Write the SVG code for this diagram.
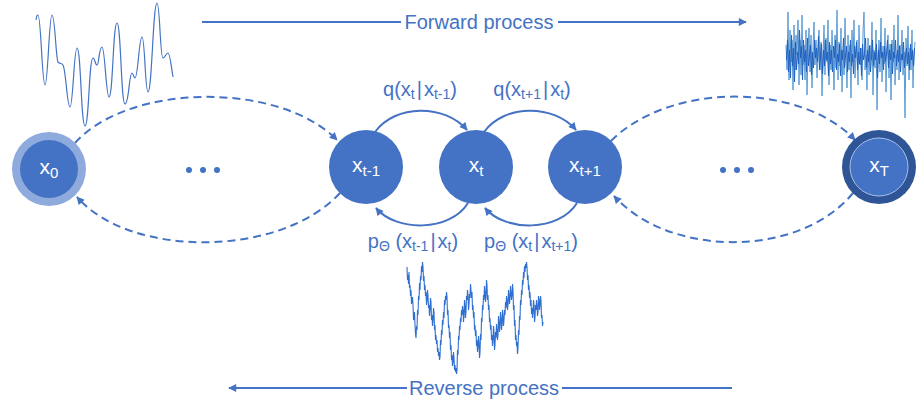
<svg xmlns="http://www.w3.org/2000/svg" width="917" height="402" viewBox="0 0 917 402">
<defs>
<marker id="ah2" viewBox="0 0 10 10" refX="9" refY="5" markerWidth="9" markerHeight="8" orient="auto" markerUnits="userSpaceOnUse"><path d="M0,0 L10,5 L0,10 Z" fill="#4472C4"/></marker>
</defs>
<style>
.lbl{font-family:"Liberation Sans",Arial,sans-serif;font-size:20px;fill:#4472C4}
.nl{font-family:"Liberation Sans",Arial,sans-serif;font-size:21px;fill:#ffffff}
.title{font-family:"Liberation Sans",Arial,sans-serif;font-size:20px;fill:#4472C4}
.dash{fill:none;stroke:#4472C4;stroke-width:2;stroke-dasharray:8 5}
.solid{fill:none;stroke:#4472C4;stroke-width:2}
.node{fill:#4472C4}
.wave{fill:none;stroke:#4472C4;stroke-width:1.2}
</style>
<rect width="917" height="402" fill="#ffffff"/>

<g id="signals">
<path class="wave" d="M36,20 C37,15 37,15 38,15 C41,15 42,85 45,85 C48,85 49,15 52,15 C55,15 56,60 58,62 C60,64 62,63 63,65 C66,70 67,107 70,107 C73,107 74,48 77,48 C81,48 81,126 85,126 C89,126 89,58 93,58 C95,58 95,65 97,65 C99,65 99,47 102,47 C105,47 106,97 109,97 C113,97 113,23 117,23 C121,23 121,104 125,104 C129,104 129,73 132,73 C133,73 134,78 135,78 C138,78 139,37 142,37 C145,37 145,92 148,92 C152,92 153,3 157,3 C160,3 160,58 163,58 C165,58 166,53 168,53 C170,53 171,65 173,77"/>
<polyline fill="none" stroke="#5B9BD5" stroke-width="1" points="786,45 787,70 788,12 789,80 790,30 791,62 792,40 793,90 794,25 795,70 796,35 797,55 798,20 799,85 800,40 801,75 802,15 803,65 804,45 805,80 806,30 807,95 808,50 809,28 810,72 811,35 812,88 813,48 814,22 815,65 816,40 817,78 818,55 819,30 820,70 821,42 822,96 823,60 824,25 825,75 826,38 827,62 828,20 829,85 830,45 831,70 832,30 833,58 834,90 835,35 836,68 837,10 838,80 839,42 840,66 841,28 842,92 843,50 844,75 845,18 846,60 847,88 848,35 849,70 850,45 851,98 852,30 853,62 854,20 855,78 856,50 857,40 858,85 859,25 860,65 861,48 862,80 863,32 864,12 865,70 866,55 867,90 868,38 869,75 870,45 871,60 872,22 873,95 874,50 875,68 876,30 877,110 878,58 879,40 880,72 881,18 882,82 883,46 884,64 885,28 886,92 887,52 888,35 889,78 890,44 891,100 892,40 893,62 894,25 895,85 896,55 897,70 898,15 899,80 900,45 901,60 902,30 903,75 904,52 905,118 906,38 907,66 908,26 909,80 910,48 911,70 912,30 913,88 914,55 915,42"/>
<polyline fill="none" stroke="#1F5FBF" stroke-width="1" points="786.5,60 787.5,40 788.5,72 789.5,50 790.5,78 791.5,35 792.5,66 793.5,48 794.5,82 795.5,42 796.5,70 797.5,52 798.5,64 799.5,30 800.5,58 801.5,46 802.5,80 803.5,40 804.5,62 805.5,50 806.5,72 807.5,38 808.5,66 809.5,55 810.5,45 811.5,75 812.5,52 813.5,68 814.5,40 815.5,58 816.5,48 817.5,62 818.5,36 819.5,70 820.5,56 821.5,44 822.5,74 823.5,50 824.5,66 825.5,40 826.5,60 827.5,52 828.5,76 829.5,42 830.5,64 831.5,50 832.5,72 833.5,46 834.5,58 835.5,40 836.5,70 837.5,54 838.5,62 839.5,44 840.5,76 841.5,50 842.5,60 843.5,38 844.5,68 845.5,56 846.5,46 847.5,72 848.5,52 849.5,62 850.5,40 851.5,66 852.5,54 853.5,74 854.5,46 855.5,58 856.5,42 857.5,70 858.5,52 859.5,64 860.5,48 861.5,76 862.5,44 863.5,60 864.5,54 865.5,38 866.5,68 867.5,50 868.5,62 869.5,46 870.5,72 871.5,56 872.5,40 873.5,66 874.5,52 875.5,60 876.5,44 877.5,78 878.5,50 879.5,64 880.5,42 881.5,58 882.5,52 883.5,70 884.5,46 885.5,62 886.5,54 887.5,40 888.5,68 889.5,50 890.5,60 891.5,44 892.5,74 893.5,52 894.5,58 895.5,40 896.5,66 897.5,50 898.5,62 899.5,46 900.5,72 901.5,54 902.5,60 903.5,42 904.5,68 905.5,56 906.5,48 907.5,64 908.5,52 909.5,70 910.5,44 911.5,60 912.5,50 913.5,66 914.5,48"/>
<polyline fill="none" stroke="#2E6FD0" stroke-width="1.1" points="407,267 407.5,280 408,275 408.5,284 409,272 409.5,288 410,285 410.5,296 411,290 411.5,304 412,300 412.5,297 413,305 413.5,320 414,318 414.5,312 415,325 415.5,334 416,338 416.5,326 417,330 417.5,310 418,315 418.5,296 419,300 419.5,283 420,290 420.5,276 421,280 421.5,266 422,272 422.5,262 423,267 423.5,281 424,276 424.5,290 425,285 425.5,296 426,292 426.5,305 427,300 427.5,290 428,296 428.5,308 429,305 429.5,316 430,310 430.5,298 431,302 431.5,320 432,315 432.5,326 433,320 433.5,308 434,312 434.5,330 435,325 435.5,340 436,335 436.5,344 437,340 437.5,352 438,348 438.5,356 439,352 439.5,360 440,357 440.5,340 441,345 441.5,330 442,335 442.5,320 443,325 443.5,312 444,318 444.5,300 445,305 445.5,296 446,300 446.5,292 447,297 447.5,315 448,310 448.5,328 449,325 449.5,338 450,332 450.5,350 451,345 451.5,360 452,355 452.5,366 453,362 453.5,352 454,358 454.5,370 455,365 455.5,372 456,368 456.5,374 457,370 457.5,350 458,355 458.5,336 459,340 459.5,326 460,330 460.5,318 461,322 461.5,310 462,315 462.5,306 463,310 463.5,322 464,316 464.5,300 465,305 465.5,318 466,312 466.5,296 467,300 467.5,290 468,295 468.5,310 469,305 469.5,294 470,298 470.5,284 471,290 471.5,298 472,292 472.5,310 473,305 473.5,318 474,312 474.5,330 475,325 475.5,336 476,330 476.5,346 477,340 477.5,352 478,347 478.5,336 479,342 479.5,358 480,353 480.5,334 481,340 481.5,318 482,322 482.5,305 483,310 483.5,295 484,300 484.5,286 485,292 485.5,302 486,296 486.5,280 487,285 487.5,300 488,295 488.5,310 489,305 489.5,322 490,318 490.5,330 491,325 491.5,340 492,335 492.5,346 493,340 493.5,326 494,332 494.5,350 495,345 495.5,332 496,338 496.5,324 497,330 497.5,340 498,335 498.5,316 499,322 499.5,332 500,326 500.5,312 501,318 501.5,330 502,325 502.5,310 503,316 503.5,326 504,320 504.5,310 505,315 505.5,302 506,308 506.5,296 507,300 507.5,310 508,305 508.5,290 509,295 509.5,304 510,298 510.5,286 511,292 511.5,300 512,296 512.5,284 513,290 513.5,310 514,305 514.5,326 515,320 515.5,340 516,335 516.5,346 517,342 517.5,354 518,348 518.5,330 519,335 519.5,316 520,320 520.5,300 521,305 521.5,290 522,295 522.5,280 523,285 523.5,272 524,278 524.5,266 525,272 525.5,264 526,268 526.5,262 527,267 527.5,280 528,275 528.5,290 529,285 529.5,298 530,292 530.5,306 531,300 531.5,314 532,308 532.5,318 533,312 533.5,300 534,305 534.5,322 535,318 535.5,305 536,310 536.5,300 537,305 537.5,316 538,312 538.5,296 539,300 539.5,310 540,305 540.5,296 541,300 541.5,318 542,315 542.5,326 543,322"/>
</g>

<g id="connectors">
<path class="dash" d="M75,143 C130,82 280,82 337,140" marker-end="url(#ah2)"/>
<path class="dash" d="M340,193 C280,258 130,258 77,197" marker-end="url(#ah2)"/>
<path class="dash" d="M611,141 C670,82 800,82 855,140" marker-end="url(#ah2)"/>
<path class="dash" d="M853,193 C800,258 670,258 614,196" marker-end="url(#ah2)"/>
<path class="solid" d="M375,132 C395,104 445,104 467,130" marker-end="url(#ah2)"/>
<path class="solid" d="M484,132 C504,104 554,104 576,130" marker-end="url(#ah2)"/>
<path class="solid" d="M468,203 C450,232 396,232 376,208" marker-end="url(#ah2)"/>
<path class="solid" d="M577,203 C559,232 505,232 485,208" marker-end="url(#ah2)"/>
<line class="solid" x1="202" y1="22" x2="401" y2="22"/>
<line class="solid" x1="558" y1="22" x2="746" y2="22" marker-end="url(#ah2)"/>
<line class="solid" x1="407" y1="388" x2="229" y2="388" marker-end="url(#ah2)"/>
<line class="solid" x1="562" y1="388" x2="732" y2="388"/>
</g>

<g id="node-x0">
<circle cx="49" cy="169" r="37" fill="#8FAADC"/>
<circle cx="49" cy="169" r="29" class="node"/>
<text class="nl" x="49" y="174" text-anchor="middle">x<tspan font-size="15" dy="4">0</tspan></text>
</g>
<g id="node-xt-1">
<circle cx="366" cy="167" r="37" class="node"/>
<text class="nl" x="366" y="172" text-anchor="middle">x<tspan font-size="15" dy="4">t-1</tspan></text>
</g>
<g id="node-xt">
<circle cx="476" cy="167" r="37" class="node"/>
<text class="nl" x="476" y="172" text-anchor="middle">x<tspan font-size="15" dy="4">t</tspan></text>
</g>
<g id="node-xt+1">
<circle cx="585" cy="167" r="37" class="node"/>
<text class="nl" x="585" y="172" text-anchor="middle">x<tspan font-size="15" dy="4">t+1</tspan></text>
</g>
<g id="node-xT">
<circle cx="879" cy="167" r="37" fill="#2F5597"/>
<circle cx="879" cy="167" r="29" class="node" stroke="#A9C0E8" stroke-width="1"/>
<text class="nl" x="879" y="172" text-anchor="middle">x<tspan font-size="15" dy="4">T</tspan></text>
</g>

<g id="ellipses" fill="#4472C4">
<circle cx="189" cy="170" r="3"/><circle cx="203" cy="170" r="3"/><circle cx="217" cy="170" r="3"/>
<circle cx="723" cy="170" r="3"/><circle cx="737" cy="170" r="3"/><circle cx="751" cy="170" r="3"/>
</g>

<g id="labels">
<text class="lbl" x="420" y="96" text-anchor="middle">q(x<tspan font-size="14" dy="3">t</tspan><tspan dy="-3" dx="2">|</tspan><tspan dx="2">x</tspan><tspan font-size="14" dy="3">t-1</tspan><tspan dy="-3">)</tspan></text>
<text class="lbl" x="532" y="96" text-anchor="middle">q(x<tspan font-size="14" dy="3">t+1</tspan><tspan dy="-3" dx="2">|</tspan><tspan dx="2">x</tspan><tspan font-size="14" dy="3">t</tspan><tspan dy="-3">)</tspan></text>
<text class="lbl" x="413" y="248" text-anchor="middle">p<tspan font-size="14" dy="3">Θ</tspan><tspan dy="-3"> (x</tspan><tspan font-size="14" dy="3">t-1</tspan><tspan dy="-3" dx="2">|</tspan><tspan dx="2">x</tspan><tspan font-size="14" dy="3">t</tspan><tspan dy="-3">)</tspan></text>
<text class="lbl" x="531" y="248" text-anchor="middle">p<tspan font-size="14" dy="3">Θ</tspan><tspan dy="-3"> (x</tspan><tspan font-size="14" dy="3">t</tspan><tspan dy="-3" dx="2">|</tspan><tspan dx="2">x</tspan><tspan font-size="14" dy="3">t+1</tspan><tspan dy="-3">)</tspan></text>
<text class="title" x="479" y="29" text-anchor="middle">Forward process</text>
<text class="title" x="484" y="395" text-anchor="middle">Reverse process</text>
</g>
</svg>
